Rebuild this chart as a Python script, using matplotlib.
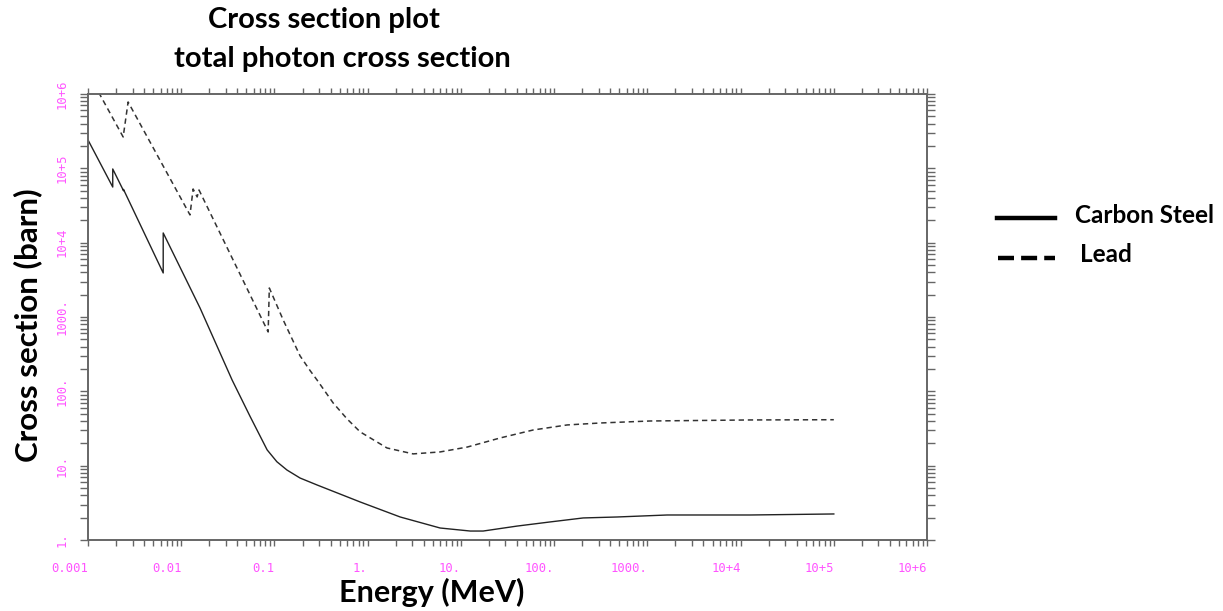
import numpy as np
import matplotlib
matplotlib.use("Agg")
import matplotlib.pyplot as plt
from matplotlib.lines import Line2D
from matplotlib.ticker import LogLocator, FixedLocator, FixedFormatter, NullFormatter

# --- data (energy in MeV, cross section in barn) ---
steel_e = [1.0e-3, 1.84e-3, 1.84e-3, 2.4e-3, 2.4e-3, 6.4e-3, 6.4e-3, 1.59e-2,
           3.51e-2, 5.47e-2, 8.34e-2, 0.106, 0.136, 0.188, 0.286, 0.829, 2.23,
           5.98, 12.6, 17.3, 40.1, 90.6, 205, 474, 1630, 1.27e4, 1.0e5]
steel_xs = [2.4e5, 5.6e4, 9.8e4, 5.0e4, 5.2e4, 3.91e3, 1.35e4, 1.32e3,
            142, 46.0, 16.3, 11.3, 8.74, 6.82, 5.50, 3.25, 2.04,
            1.45, 1.32, 1.32, 1.54, 1.75, 1.98, 2.04, 2.17, 2.17, 2.24]

lead_e = [1.3e-3, 2.38e-3, 2.69e-3, 1.24e-2, 1.34e-2, 1.48e-2, 1.55e-2, 0.0855,
          0.088, 0.124, 0.188, 0.241, 0.286, 0.426, 0.601, 0.829, 1.61, 3.07,
          5.98, 11.7, 26.4, 59.6, 138, 312, 1072, 1.27e4, 1.0e5]
lead_xs = [1.05e6, 2.64e5, 7.8e5, 2.36e4, 5.27e4, 4.12e4, 5.11e4, 629,
           2455, 912, 300, 190, 142, 69.7, 42.5, 28.5, 17.3, 14.4,
           15.3, 17.8, 23.6, 30.2, 35.3, 37.5, 39.9, 41.2, 41.5]

x_ticks = [1e-3, 1e-2, 1e-1, 1, 10, 100, 1000, 1e4, 1e5, 1e6]
x_labels = ["0.001", "0.01", "0.1", "1.", "10.", "100.", "1000.", "10+4", "10+5", "10+6"]
y_ticks = [1, 10, 100, 1000, 1e4, 1e5, 1e6]
y_labels = ["1.", "10.", "100.", "1000.", "10+4", "10+5", "10+6"]

series_names = ["Carbon Steel", "Lead"]

# --- figure ---
fig = plt.figure(figsize=(12.23, 6.11), dpi=100)
ax = fig.add_axes([0.0720, 0.1162, 0.686, 0.730])

ax.plot(steel_e, steel_xs, color="#222222", lw=1.0)
ax.plot(lead_e, lead_xs, color="#333333", lw=1.1, linestyle=(0, (3.5, 2.5)))

ax.set_xscale("log")
ax.set_yscale("log")
ax.set_xlim(1e-3, 1e6)
ax.set_ylim(1, 1e6)

pink = "#ff55ff"
frame = "#666666"
mono = "DejaVu Sans Mono"

ax.xaxis.set_major_locator(FixedLocator(x_ticks))
ax.xaxis.set_major_formatter(FixedFormatter(x_labels))
ax.yaxis.set_major_locator(FixedLocator(y_ticks))
ax.yaxis.set_major_formatter(FixedFormatter(y_labels))
ax.xaxis.set_minor_locator(LogLocator(base=10, subs=np.arange(2, 10), numticks=50))
ax.yaxis.set_minor_locator(LogLocator(base=10, subs=np.arange(2, 10), numticks=50))
ax.xaxis.set_minor_formatter(NullFormatter())
ax.yaxis.set_minor_formatter(NullFormatter())

for s in ax.spines.values():
    s.set_color(frame)
    s.set_linewidth(1.4)

ax.tick_params(axis="x", which="both", direction="out", top=True, length=4.5,
               width=1.0, color=frame, pad=11, labelcolor=pink, labelsize=8.8)
ax.tick_params(axis="y", which="both", direction="out", right=True, length=6,
               width=1.0, color=frame, pad=8, labelcolor=pink, labelsize=8.8)
for lab in ax.get_xticklabels():
    lab.set_fontfamily(mono)
    lab.set_horizontalalignment("right")
for lab in ax.get_yticklabels():
    lab.set_fontfamily(mono)
    lab.set_rotation(90)
    lab.set_verticalalignment("center")

# titles and axis labels
bold = dict(family="Lato", fontweight="bold", color="black")
fig.text(0.2649, 0.9542, "Cross section plot", ha="center", va="baseline", fontsize=21, **bold)
fig.text(0.2796, 0.8903, "total photon cross section", ha="center", va="baseline", fontsize=21, **bold)
fig.text(0.353, 0.0147, "Energy (MeV)", ha="center", va="baseline", fontsize=22, **bold)
fig.text(0.0229, 0.468, "Cross section (barn)", ha="center", va="center", rotation=90, fontsize=22.5, **bold)

# legend drawn by hand to the right of the plot
fig.add_artist(Line2D([0.8152, 0.8626], [0.6432, 0.6432], color="black", lw=3.2,
                      transform=fig.transFigure))
fig.add_artist(Line2D([0.8160, 0.8626], [0.5777, 0.5777], color="black", lw=3.2,
                      linestyle=(0, (3.6, 1.6)), transform=fig.transFigure))
fig.text(0.879, 0.6465, series_names[0], ha="left", va="center", fontsize=17.5, **bold)
fig.text(0.883, 0.5827, series_names[1], ha="left", va="center", fontsize=17.5, **bold)

fig.savefig("out.png", dpi=100, facecolor="white")
